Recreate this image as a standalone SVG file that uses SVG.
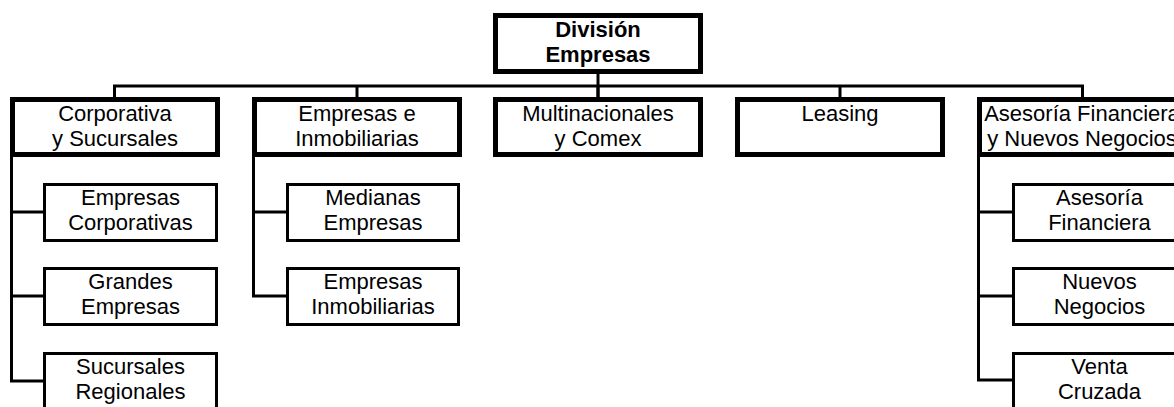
<svg xmlns="http://www.w3.org/2000/svg" width="1174" height="407" viewBox="0 0 1174 407">
<style>
  .bg { fill: #ffffff; }
  .l1 { fill: #ffffff; stroke: #000000; stroke-width: 5; }
  .l2 { fill: #ffffff; stroke: #000000; stroke-width: 3; }
  .conn { fill: none; stroke: #000000; stroke-width: 3; }
  text { font-family: "Liberation Sans", Arial, sans-serif; font-size: 22px; fill: #000000; text-anchor: middle; }
  .bold { font-weight: bold; }
</style>
<rect class="bg" x="0" y="0" width="1174" height="407"/>
<g id="connectors">
  <path class="conn" d="M598,74 V97"/>
  <path class="conn" d="M114.5,97 V86 H1082.5 V97"/>
  <path class="conn" d="M357,86 V97 M598,86 V97 M840,86 V97"/>
  <path class="conn" d="M11.5,157 V381.5 M10,212 H43 M10,296 H43 M10,381 H43"/>
  <path class="conn" d="M253.5,157 V296.5 M252,212 H286 M252,296 H286"/>
  <path class="conn" d="M978.5,157 V380.5 M977,212 H1012 M977,296 H1012 M977,380 H1012"/>
</g>
<g id="division-empresas">
  <rect class="l1" x="495.5" y="15.5" width="205" height="56"/>
  <text class="bold" x="598" y="37">División</text>
  <text class="bold" x="598" y="62">Empresas</text>
</g>
<g id="corporativa">
  <rect class="l1" x="12.5" y="99.5" width="205" height="55"/>
  <text x="115" y="121">Corporativa</text>
  <text x="115" y="146">y Sucursales</text>
</g>
<g id="empresas-inmobiliarias">
  <rect class="l1" x="254.5" y="99.5" width="205" height="55"/>
  <text x="357" y="121">Empresas e</text>
  <text x="357" y="146">Inmobiliarias</text>
</g>
<g id="multinacionales">
  <rect class="l1" x="495.5" y="99.5" width="205" height="55"/>
  <text x="598" y="121">Multinacionales</text>
  <text x="598" y="146">y Comex</text>
</g>
<g id="leasing">
  <rect class="l1" x="737.5" y="99.5" width="205" height="55"/>
  <text x="840" y="121">Leasing</text>
</g>
<g id="asesoria-nuevos">
  <rect class="l1" x="979.5" y="99.5" width="205" height="55"/>
  <text x="1082" y="121">Asesoría Financiera</text>
  <text x="1082" y="146">y Nuevos Negocios</text>
</g>
<g id="empresas-corporativas">
  <rect class="l2" x="44.5" y="184.5" width="172" height="56"/>
  <text x="130.5" y="205">Empresas</text>
  <text x="130.5" y="230">Corporativas</text>
</g>
<g id="grandes-empresas">
  <rect class="l2" x="44.5" y="268.5" width="172" height="56"/>
  <text x="130.5" y="289">Grandes</text>
  <text x="130.5" y="314">Empresas</text>
</g>
<g id="sucursales-regionales">
  <rect class="l2" x="44.5" y="353.5" width="172" height="56"/>
  <text x="130.5" y="374">Sucursales</text>
  <text x="130.5" y="399">Regionales</text>
</g>
<g id="medianas-empresas">
  <rect class="l2" x="287.5" y="184.5" width="171" height="56"/>
  <text x="373" y="205">Medianas</text>
  <text x="373" y="230">Empresas</text>
</g>
<g id="empresas-inmobiliarias-2">
  <rect class="l2" x="287.5" y="268.5" width="171" height="56"/>
  <text x="373" y="289">Empresas</text>
  <text x="373" y="314">Inmobiliarias</text>
</g>
<g id="asesoria-financiera">
  <rect class="l2" x="1013.5" y="184.5" width="172" height="56"/>
  <text x="1099.5" y="205">Asesoría</text>
  <text x="1099.5" y="230">Financiera</text>
</g>
<g id="nuevos-negocios">
  <rect class="l2" x="1013.5" y="268.5" width="172" height="56"/>
  <text x="1099.5" y="289">Nuevos</text>
  <text x="1099.5" y="314">Negocios</text>
</g>
<g id="venta-cruzada">
  <rect class="l2" x="1013.5" y="353.5" width="172" height="56"/>
  <text x="1099.5" y="374">Venta</text>
  <text x="1099.5" y="399">Cruzada</text>
</g>
</svg>
